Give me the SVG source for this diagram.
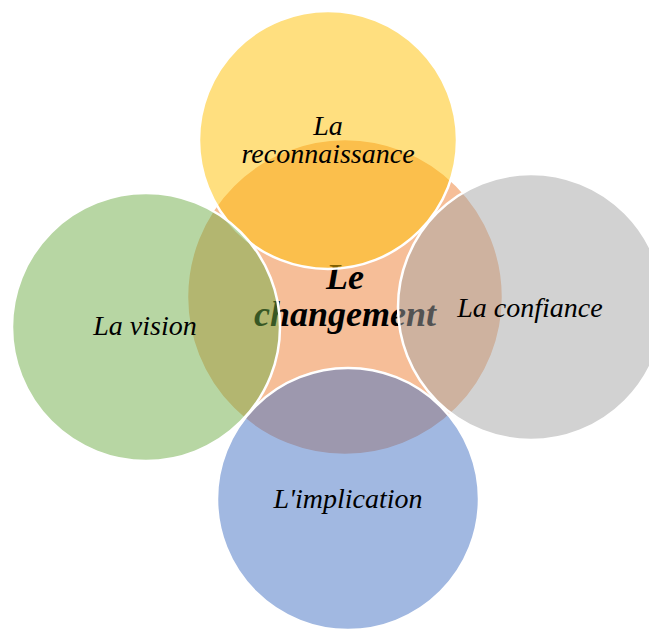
<svg xmlns="http://www.w3.org/2000/svg" width="649" height="629" viewBox="0 0 649 629">
<style>
.c{stroke:#FFFFFF;stroke-width:2.5;fill-opacity:0.5}
.t{font-family:"Liberation Serif","Times New Roman",serif;font-style:italic;font-size:28px;fill:#000000;text-anchor:middle}
.m{font-weight:bold;font-size:36px}
</style>
<rect width="649" height="629" fill="#FFFFFF"/>
<g id="center">
<circle class="c" cx="345" cy="297" r="158" fill="#ED7D31"/>
<text class="t m" x="345" y="289">Le</text>
<text class="t m" x="345" y="326">changement</text>
</g>
<g id="reconnaissance">
<circle class="c" cx="328" cy="140" r="129" fill="#FFC000"/>
<text class="t" x="328" y="135">La</text>
<text class="t" x="328" y="163">reconnaissance</text>
</g>
<g id="confiance">
<circle class="c" cx="531" cy="307" r="133" fill="#A5A5A5"/>
<text class="t" x="530" y="317">La confiance</text>
</g>
<g id="vision">
<circle class="c" cx="146" cy="327" r="134" fill="#70AD47"/>
<text class="t" x="145" y="335">La vision</text>
</g>
<g id="implication">
<circle class="c" cx="348" cy="499" r="131" fill="#4472C4"/>
<text class="t" x="348" y="508">L'implication</text>
</g>
<g id="connectors"></g>
</svg>
